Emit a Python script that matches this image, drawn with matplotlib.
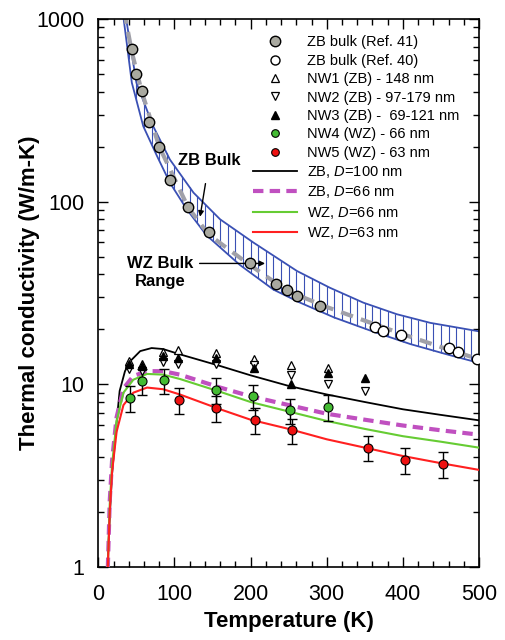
import numpy as np
import matplotlib.pyplot as plt
from matplotlib.lines import Line2D
from matplotlib.ticker import FixedLocator, MultipleLocator, LogLocator, FuncFormatter, NullFormatter

plt.rcParams['font.family'] = ['Liberation Sans', 'DejaVu Sans']
plt.rcParams['mathtext.fontset'] = 'custom'
plt.rcParams['mathtext.it'] = 'Liberation Sans:italic'
plt.rcParams['mathtext.rm'] = 'Liberation Sans'

# bulk data
ref41_T = [44, 50, 57, 67, 80, 94, 118, 145, 199, 233, 248, 261, 291]
ref41_k = [682, 501, 403, 274, 200, 131, 93, 68, 46, 35.4, 32.8, 30.4, 26.8]
ref40_T = [363, 374, 398, 460, 473, 497]
ref40_k = [20.7, 19.5, 18.6, 15.8, 15.1, 13.8]

# nanowires
nw1_T = [40, 57, 85, 105, 155, 204, 253, 302]
nw1_k = [13.5, 13.0, 15.0, 15.5, 14.8, 13.8, 12.8, 12.3]
nw2_T = [40, 57, 85, 105, 155, 204, 253, 302, 350]
nw2_k = [12.2, 11.8, 13.3, 13.0, 13.0, 12.8, 11.3, 10.0, 9.2]
nw3_T = [40, 57, 85, 105, 155, 204, 253, 302, 350]
nw3_k = [13.0, 12.6, 14.3, 14.0, 14.0, 12.3, 10.1, 11.6, 10.8]
nw4_T = [41, 58, 86, 154, 203, 252, 302]
nw4_k = [8.4, 10.4, 10.5, 9.3, 8.6, 7.2, 7.5]
nw5_T = [106, 155, 206, 255, 354, 403, 453]
nw5_k = [8.2, 7.4, 6.4, 5.6, 4.5, 3.85, 3.65]

# model curves
zb100_T = [11, 12, 15, 18, 22, 28, 35, 42, 55, 70, 85, 107, 160, 200, 250, 300, 350, 400, 450, 500]
zb100_k = [0.8, 1.0, 1.9, 3.2, 5.1, 9.2, 11.8, 13.4, 15.2, 15.8, 15.6, 14.6, 12.6, 11.2, 9.8, 8.8, 8.0, 7.3, 6.8, 6.35]
zb66_T = [11.5, 12.5, 15, 18, 24, 33, 46, 64, 85, 107, 160, 200, 250, 300, 350, 400, 450, 500]
zb66_k = [0.8, 1.0, 2.3, 3.8, 6.6, 9.5, 11.1, 11.8, 11.8, 11.3, 9.6, 8.6, 7.7, 6.9, 6.4, 5.95, 5.6, 5.3]
wz66_T = [11.5, 12.5, 15, 18, 24, 33, 46, 64, 85, 107, 160, 200, 250, 300, 350, 400, 450, 500]
wz66_k = [0.8, 1.0, 2.2, 3.6, 6.3, 9.0, 10.6, 11.4, 11.3, 10.7, 9.1, 8.0, 7.1, 6.3, 5.7, 5.2, 4.85, 4.5]
wz63_T = [11.5, 12.5, 15, 18, 24, 33, 46, 64, 85, 107, 160, 200, 250, 300, 350, 400, 450, 500]
wz63_k = [0.8, 1.0, 2.0, 3.3, 5.5, 7.7, 9.0, 9.6, 9.4, 8.8, 7.3, 6.4, 5.7, 5.0, 4.5, 4.05, 3.7, 3.4]

# ZB bulk fit and WZ bulk range
zbfit_T = [34, 44, 57, 80, 118, 145, 199, 248, 300, 350, 400, 450, 500]
zbfit_k = [1100, 660, 400, 200, 93, 66, 45, 32.5, 26.5, 22.3, 18.8, 16.0, 13.7]
band_lo_T = [32, 44, 59, 77, 94, 116, 142, 186, 230, 265, 310, 360, 410, 460, 500]
band_lo_k = [1100, 448, 259, 178, 127, 91, 65.5, 45, 33, 28, 23.2, 19.5, 16.6, 14.5, 13.1]
band_hi_T = [35, 50, 72, 94, 125, 160, 204, 261, 304, 348, 392, 436, 500]
band_hi_k = [1100, 448, 259, 170, 112, 80, 59.6, 41.7, 33.8, 28, 24.2, 21.7, 19.5]

xticks = [0, 100, 200, 300, 400, 500]
yticks = [1, 10, 100, 1000]

blue = '#3a50b4'
fig = plt.figure(figsize=(5.05, 6.4), dpi=100)
ax = fig.add_axes([0.1947, 0.1141, 0.7539, 0.8562])
ax.set_yscale('log')

# hatched band
Th = np.arange(40, 501, 10)
lo = np.exp(np.interp(Th, band_lo_T, np.log(band_lo_k)))
hi = np.exp(np.interp(Th, band_hi_T, np.log(band_hi_k)))
ax.vlines(Th, lo, hi, color=blue, lw=0.8, zorder=1)
ax.plot(band_lo_T, band_lo_k, color=blue, lw=1.3, zorder=2)
ax.plot(band_hi_T, band_hi_k, color=blue, lw=1.3, zorder=2)
ax.plot(zbfit_T, zbfit_k, color='#a0a0a8', lw=3, ls=(0, (3, 2)), zorder=2)

ax.plot(zb100_T, zb100_k, color='black', lw=1.3, zorder=3)
ax.plot(zb66_T, zb66_k, color='#c050c0', lw=3, ls=(0, (2.5, 1.5)), zorder=3)
ax.plot(wz66_T, wz66_k, color='#66cc33', lw=1.5, zorder=3)
ax.plot(wz63_T, wz63_k, color='#ff2020', lw=1.5, zorder=3)

err4 = [0.16 * v for v in nw4_k]
err5 = [0.16 * v for v in nw5_k]
ax.errorbar(nw4_T, nw4_k, yerr=err4, fmt='none', ecolor='black', elinewidth=1, capsize=3.5, zorder=4)
ax.errorbar(nw5_T, nw5_k, yerr=err5, fmt='none', ecolor='black', elinewidth=1, capsize=3.5, zorder=4)

ax.plot(ref41_T, ref41_k, 'o', ms=7.5, mfc='#a9a9a0', mec='black', mew=1, zorder=5)
ax.plot(ref40_T, ref40_k, 'o', ms=7.5, mfc='white', mec='black', mew=1, zorder=5)
ax.plot(nw1_T, nw1_k, '^', ms=6, mfc='white', mec='black', mew=0.9, zorder=5)
ax.plot(nw2_T, nw2_k, 'v', ms=6, mfc='white', mec='black', mew=0.9, zorder=5)
ax.plot(nw3_T, nw3_k, '^', ms=6, mfc='black', mec='black', zorder=5)
ax.plot(nw4_T, nw4_k, 'o', ms=6.5, mfc='#44bb33', mec='black', mew=0.8, zorder=5)
ax.plot(nw5_T, nw5_k, 'o', ms=6.5, mfc='#ee1111', mec='black', mew=0.8, zorder=5)

handles = [
    Line2D([], [], ls='none', marker='o', ms=7.5, mfc='#a9a9a0', mec='black'),
    Line2D([], [], ls='none', marker='o', ms=6.5, mfc='white', mec='black'),
    Line2D([], [], ls='none', marker='^', ms=5.5, mfc='white', mec='black', mew=0.9),
    Line2D([], [], ls='none', marker='v', ms=5.5, mfc='white', mec='black', mew=0.9),
    Line2D([], [], ls='none', marker='^', ms=5.5, mfc='black', mec='black'),
    Line2D([], [], ls='none', marker='o', ms=5.5, mfc='#44bb33', mec='black', mew=0.8),
    Line2D([], [], ls='none', marker='o', ms=5.5, mfc='#ee1111', mec='black', mew=0.8),
    Line2D([], [], color='black', lw=1.3),
    Line2D([], [], color='#c050c0', lw=3, ls=(0, (2.5, 1.5))),
    Line2D([], [], color='#66cc33', lw=1.5),
    Line2D([], [], color='#ff2020', lw=1.5),
]
labels = ['ZB bulk (Ref. 41)', 'ZB bulk (Ref. 40)', 'NW1 (ZB) - 148 nm',
          'NW2 (ZB) - 97-179 nm', 'NW3 (ZB) -  69-121 nm', 'NW4 (WZ) - 66 nm',
          'NW5 (WZ) - 63 nm', 'ZB, $D$=100 nm', 'ZB, $D$=66 nm',
          'WZ, $D$=66 nm', 'WZ, $D$=63 nm']
ax.legend(handles, labels, loc='upper left', bbox_to_anchor=(0.406, 0.97),
          frameon=False, fontsize=10.5, handlelength=3.0, handletextpad=0.7,
          labelspacing=0.3, borderpad=0, borderaxespad=0)

ax.annotate('ZB Bulk', xy=(133.6, 82.7), xytext=(145.6, 167), ha='center', va='center',
            fontsize=12, fontweight='bold',
            arrowprops=dict(arrowstyle='-|>', color='black', lw=1, shrinkA=9, shrinkB=0,
                            mutation_scale=8))
ax.annotate('', xy=(219, 45.9), xytext=(133, 45.9),
            arrowprops=dict(arrowstyle='-|>', color='black', lw=1, shrinkA=0, shrinkB=0,
                            mutation_scale=8))
ax.text(81, 41.2, 'WZ Bulk\nRange', ha='center', va='center', fontsize=12,
        fontweight='bold', linespacing=1.25)

ax.set_xlim(0, 500)
ax.set_ylim(1, 1000)
ax.xaxis.set_major_locator(FixedLocator(xticks))
ax.xaxis.set_minor_locator(MultipleLocator(20))
ax.yaxis.set_major_locator(FixedLocator(yticks))
ax.yaxis.set_minor_locator(LogLocator(base=10, subs=np.arange(2, 10)))
ax.yaxis.set_major_formatter(FuncFormatter(lambda v, p: '%d' % v))
ax.yaxis.set_minor_formatter(NullFormatter())
ax.tick_params(which='both', direction='in', top=True, right=True, width=1)
ax.tick_params(which='major', length=7)
ax.tick_params(which='minor', length=4)
ax.tick_params(axis='x', which='major', labelsize=15.5, pad=12)
ax.tick_params(axis='y', which='major', labelsize=15.5, pad=10)
for s in ax.spines.values():
    s.set_linewidth(1.2)

ax.set_xlabel('Temperature (K)', fontsize=16, fontweight='bold')
ax.set_ylabel('Thermal conductivity (W/m-K)', fontsize=16, fontweight='bold')
ax.xaxis.set_label_coords(0.5, -0.08)
ax.yaxis.set_label_coords(-0.153, 0.5)

fig.savefig('out.png', dpi=100)
